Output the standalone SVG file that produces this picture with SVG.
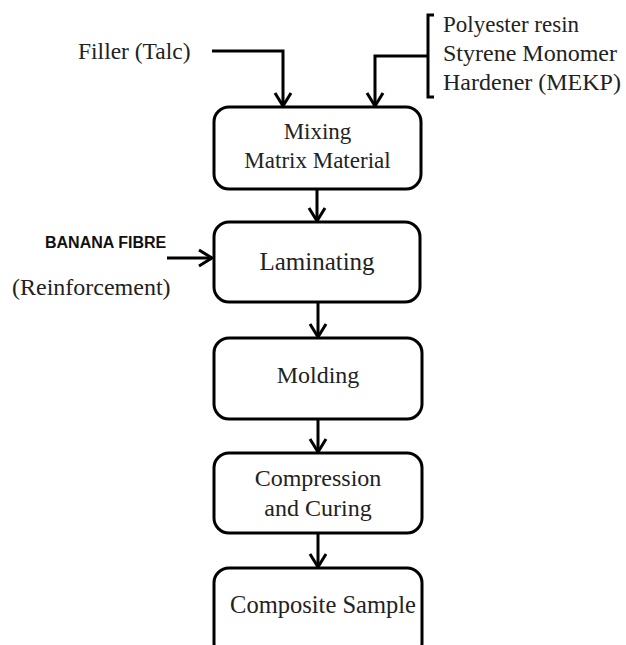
<svg xmlns="http://www.w3.org/2000/svg" width="626" height="645" viewBox="0 0 626 645">
<style>
.box{fill:#fff;stroke:#000;stroke-width:3}
.t{font-family:"Liberation Serif","Times New Roman",serif;font-size:24px;fill:#222}
.c{text-anchor:middle}
.ln{fill:none;stroke:#000;stroke-width:3}
.b{font-family:"Liberation Sans",Arial,sans-serif;font-size:16px;font-weight:bold;fill:#111}
</style>
<defs>
<marker id="ah" viewBox="0 0 16 20" refX="14" refY="10" markerWidth="16" markerHeight="20" markerUnits="userSpaceOnUse" orient="auto">
<path d="M1,2 L14,10 L1,18" fill="none" stroke="#000" stroke-width="3"/>
</marker>
</defs>
<rect width="626" height="645" fill="#fff"/>
<g id="connectors">
<path class="ln" d="M212,51 H283 V106" marker-end="url(#ah)"/>
<path class="ln" d="M428,56 H375 V106" marker-end="url(#ah)"/>
<path class="ln" d="M317,189 V221" marker-end="url(#ah)"/>
<path class="ln" d="M167,258 H212" marker-end="url(#ah)"/>
<path class="ln" d="M318,302 V337" marker-end="url(#ah)"/>
<path class="ln" d="M318,419 V452" marker-end="url(#ah)"/>
<path class="ln" d="M318,533 V567" marker-end="url(#ah)"/>
</g>
<g id="filler">
<text class="t" x="78" y="59" style="font-size:23.5px">Filler (Talc)</text>
</g>
<g id="resins">
<path class="ln" d="M434,15 H428 V97 H434" stroke-width="2.5"/>
<text class="t" x="443" y="32" style="font-size:23px">Polyester resin</text>
<text class="t" x="443" y="61">Styrene Monomer</text>
<text class="t" x="443" y="90">Hardener (MEKP)</text>
</g>
<g id="banana">
<text class="b" x="45" y="248">BANANA FIBRE</text>
<text class="t" x="12" y="295">(Reinforcement)</text>
</g>
<g id="mixing">
<rect class="box" x="214" y="107" width="207" height="82" rx="15"/>
<text class="t c" x="317.5" y="139" style="font-size:23px">Mixing</text>
<text class="t c" x="317.5" y="168" style="font-size:23px">Matrix Material</text>
</g>
<g id="laminating">
<rect class="box" x="214" y="222" width="206" height="80" rx="15"/>
<text class="t c" x="317" y="270" style="font-size:25px">Laminating</text>
</g>
<g id="molding">
<rect class="box" x="214" y="338" width="208" height="81" rx="15"/>
<text class="t c" x="318" y="383">Molding</text>
</g>
<g id="compression">
<rect class="box" x="214" y="453" width="208" height="80" rx="15"/>
<text class="t c" x="318" y="486">Compression</text>
<text class="t c" x="318" y="516">and Curing</text>
</g>
<g id="composite">
<rect class="box" x="214" y="568" width="208" height="90" rx="15"/>
<text class="t c" x="323" y="613" style="font-size:24.5px">Composite Sample</text>
</g>
</svg>
